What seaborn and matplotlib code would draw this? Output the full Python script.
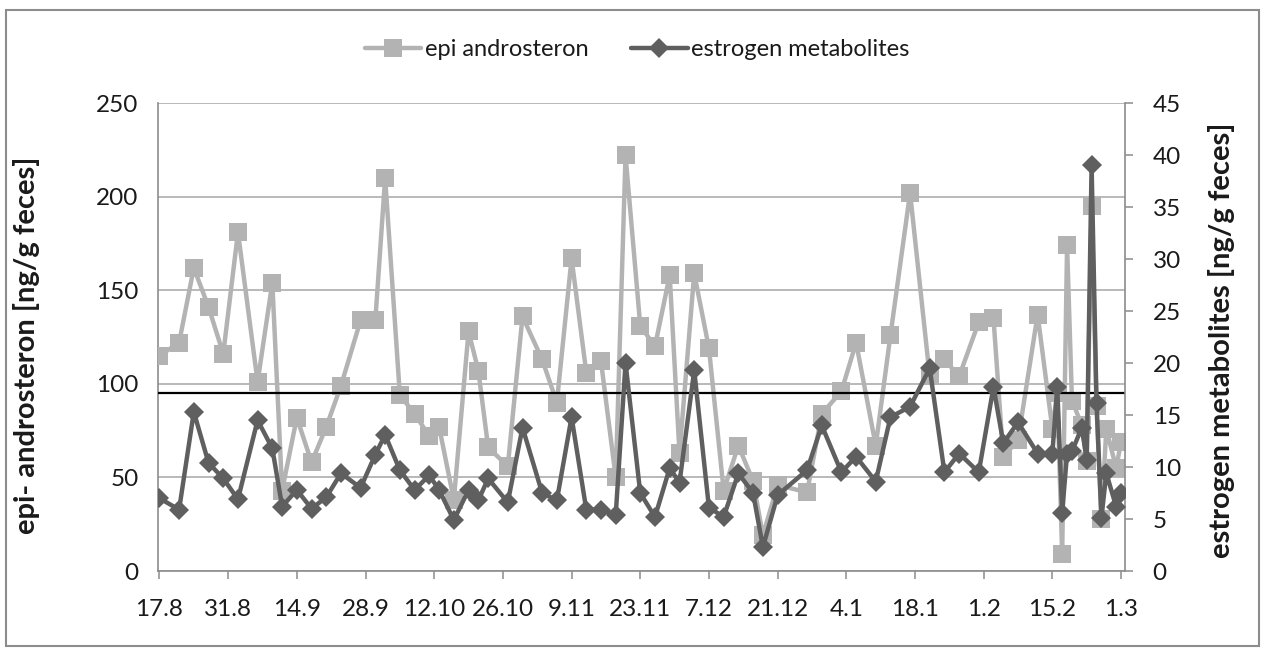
import matplotlib
matplotlib.use("Agg")
import matplotlib.pyplot as plt
import pandas as pd
import seaborn as sns
from matplotlib.patches import Rectangle

# Sampling dates (faeces collection)
sample_dates = [
    "2009-08-17", "2009-08-21", "2009-08-24", "2009-08-27", "2009-08-30",
    "2009-09-02", "2009-09-06", "2009-09-09", "2009-09-11", "2009-09-14",
    "2009-09-17", "2009-09-20", "2009-09-23", "2009-09-27", "2009-09-30",
    "2009-10-02", "2009-10-05", "2009-10-08", "2009-10-11", "2009-10-13",
    "2009-10-16", "2009-10-19", "2009-10-21", "2009-10-23", "2009-10-27",
    "2009-10-30", "2009-11-03", "2009-11-06", "2009-11-09", "2009-11-12",
    "2009-11-15", "2009-11-18", "2009-11-20", "2009-11-23", "2009-11-26",
    "2009-11-29", "2009-12-01", "2009-12-04", "2009-12-07", "2009-12-10",
    "2009-12-13", "2009-12-16", "2009-12-18", "2009-12-21", "2009-12-27",
    "2009-12-30", "2010-01-03", "2010-01-06", "2010-01-10", "2010-01-13",
    "2010-01-17", "2010-01-21", "2010-01-24", "2010-01-27", "2010-01-31",
    "2010-02-03", "2010-02-05", "2010-02-08", "2010-02-12", "2010-02-15",
    "2010-02-16", "2010-02-17", "2010-02-18", "2010-02-19", "2010-02-21",
    "2010-02-22", "2010-02-23", "2010-02-24", "2010-02-25", "2010-02-26",
    "2010-02-28", "2010-03-01",
]

# epi-androsterone [ng/g feces], left axis
epi_androsteron = [
    115, 122, 162, 141, 116, 181, 101, 154, 43, 82,
    58, 77, 99, 134, 134, 210, 94, 84, 72, 77,
    38, 128, 107, 66, 56, 136, 113, 90, 167, 106,
    112, 50, 222, 131, 120, 158, 63, 159, 119, 43,
    67, 48, 19, 46, 42, 84, 96, 122, 67, 126,
    202, 104, 113, 104, 133, 135, 61, 70, 137, 76,
    95, 9, 174, 91, 78, 59, 195, 88, 28, 76,
    55, 69,
]

# estrogen metabolites [ng/g feces], right axis
estrogen_metabolites = [
    7.0, 5.9, 15.3, 10.4, 8.9, 6.9, 14.5, 11.8, 6.2, 7.8,
    6.0, 7.1, 9.4, 8.0, 11.2, 13.1, 9.7, 7.8, 9.2, 7.8,
    4.9, 7.8, 6.8, 8.9, 6.6, 13.8, 7.5, 6.8, 14.8, 5.9,
    5.9, 5.4, 20.0, 7.5, 5.2, 9.9, 8.5, 19.3, 6.1, 5.2,
    9.4, 7.5, 2.3, 7.3, 9.7, 14.0, 9.5, 11.0, 8.6, 14.8,
    15.8, 19.5, 9.5, 11.3, 9.5, 17.7, 12.3, 14.3, 11.3, 11.3,
    17.7, 5.6, 11.3, 11.5, 13.8, 10.7, 39.0, 16.2, 5.1, 9.4,
    6.2, 7.5,
]

# Baseline level of epi-androsterone
threshold = 95

# Two-weekly date ticks
tick_dates = [
    "2009-08-17", "2009-08-31", "2009-09-14", "2009-09-28", "2009-10-12",
    "2009-10-26", "2009-11-09", "2009-11-23", "2009-12-07", "2009-12-21",
    "2010-01-04", "2010-01-18", "2010-02-01", "2010-02-15", "2010-03-01",
]
tick_labels = [
    "17.8", "31.8", "14.9", "28.9", "12.10", "26.10", "9.11", "23.11",
    "7.12", "21.12", "4.1", "18.1", "1.2", "15.2", "1.3",
]

sns.set_theme(style="white")
plt.rcParams["font.family"] = ["Lato", "DejaVu Sans"]

LIGHT = "#b3b3b3"
DARK = "#5f5f5f"
AXIS_GRAY = "#8c8c8c"
TEXT = "#1a1a1a"
TICK_FS = 17.5
LABEL_FS = 21

df = pd.DataFrame({
    "date": pd.to_datetime(sample_dates),
    "epi": epi_androsteron,
    "estrogen": estrogen_metabolites,
})

fig = plt.figure(figsize=(12.64, 6.5), dpi=100)
ax1 = fig.add_axes([0.125, 0.1215, 0.765, 0.72])
ax2 = ax1.twinx()

sns.lineplot(data=df, x="date", y="epi", ax=ax1, color=LIGHT, lw=3.2,
             marker="s", markersize=13, markeredgewidth=0,
             label="epi androsteron", legend=False, zorder=3)
ax1.axhline(threshold, color="black", lw=1.6, zorder=4)

sns.lineplot(data=df, x="date", y="estrogen", ax=ax2, color=DARK, lw=3.2,
             marker="D", markersize=10, markeredgewidth=0,
             label="estrogen metabolites", legend=False, zorder=3)

start = pd.Timestamp(tick_dates[0])
ax1.set_xlim(start - pd.Timedelta(days=0.3), start + pd.Timedelta(days=196.8))
ax1.set_ylim(0, 250)
ax2.set_ylim(0, 45)
ax1.set_yticks(range(0, 251, 50))
ax2.set_yticks(range(0, 46, 5))
ax1.set_xticks(pd.to_datetime(tick_dates))
ax1.set_xticklabels(tick_labels)

ax1.yaxis.grid(True, color="#a6a6a6", lw=1.1)
ax1.xaxis.grid(False)
ax1.set_axisbelow(True)
ax2.grid(False)

for ax in (ax1, ax2):
    for s in ax.spines.values():
        s.set_visible(False)
ax1.spines["left"].set_visible(True)
ax1.spines["bottom"].set_visible(True)
ax2.spines["right"].set_visible(True)
for s in (ax1.spines["left"], ax1.spines["bottom"], ax2.spines["right"]):
    s.set_color(AXIS_GRAY)
    s.set_linewidth(1.2)

ax1.tick_params(axis="x", bottom=True, length=6, width=1.1, color=AXIS_GRAY,
                direction="out", pad=14, labelsize=TICK_FS, labelcolor=TEXT)
ax1.tick_params(axis="y", left=False, length=0, pad=14, labelsize=TICK_FS,
                labelcolor=TEXT)
ax2.tick_params(axis="y", right=True, length=6, width=1.1, color=AXIS_GRAY,
                direction="out", pad=14, labelsize=TICK_FS, labelcolor=TEXT)

ax1.set_xlabel("")
ax1.set_ylabel("epi- androsteron [ng/g feces]", fontsize=LABEL_FS,
               fontweight="bold", color=TEXT)
ax2.set_ylabel("estrogen metabolites [ng/g feces]", fontsize=LABEL_FS,
               fontweight="bold", color=TEXT, rotation=90)
ax1.yaxis.set_label_coords(-0.122, 0.483)
ax2.yaxis.set_label_coords(1.086, 0.494)

handles = [ax1.get_lines()[0], ax2.get_lines()[0]]
labels = [h.get_label() for h in handles]
fig.legend(handles, labels, loc="center", bbox_to_anchor=(0.504, 0.924),
           ncol=2, frameon=False, fontsize=17, handlelength=2.4,
           handletextpad=0.15, columnspacing=1.8, labelcolor=TEXT)

fig.patches.append(Rectangle((0.005, 0.006), 0.991, 0.979,
                             transform=fig.transFigure, fill=False,
                             edgecolor=AXIS_GRAY, lw=1.5))

fig.savefig("out.png", dpi=100)
